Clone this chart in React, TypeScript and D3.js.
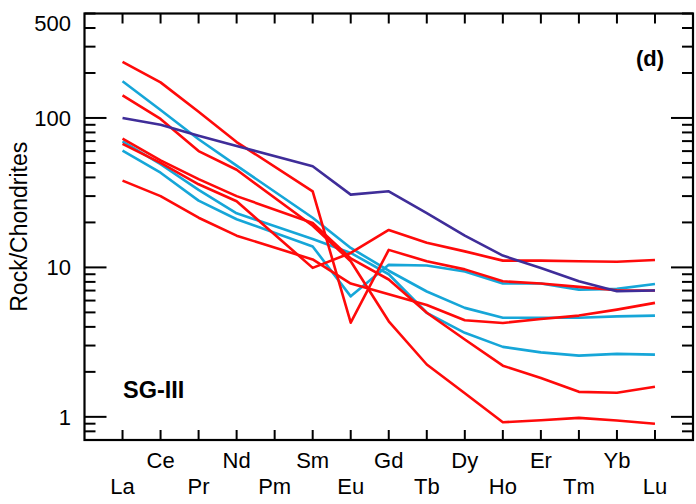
import React from "react";
import * as d3 from "d3";

const elements = ["La", "Ce", "Pr", "Nd", "Pm", "Sm", "Eu", "Gd", "Tb", "Dy", "Ho", "Er", "Tm", "Yb", "Lu"];

const purple1 = [100, 90, 76, 65, null, 47.5, 30.7, 32.3, 23.1, 16.3, 12.0, 9.9, 8.07, 6.92, 7.0];
const red1 = [237, 173, 110, 69, null, 32.3, 4.27, 13.1, 11.0, 9.7, 8.07, 7.8, 7.41, 7.03, 7.0];
const red2 = [141.6, 98.5, 60, 45, null, 19, 11, 4.36, 2.24, 1.44, 0.92, 0.95, 0.985, 0.945, 0.9];
const red3 = [72.8, 52, 39, 30, null, 19.8, 11.5, 8.3, 4.97, 3.29, 2.2, 1.82, 1.47, 1.45, 1.59];
const red4 = [67, 50, 36, 27.7, null, 9.93, 12.5, 17.8, 14.6, 12.8, 11.1, 11.1, 11.0, 10.9, 11.2];
const red5 = [38.1, 30, 21.5, 16.3, null, 11.3, 7.8, 6.6, 5.6, 4.43, 4.25, 4.52, 4.76, 5.22, 5.79];
const cyan1 = [176, 113, 72, 48, null, 21.5, 13.5, 9.5, 6.9, 5.36, 4.6, 4.6, 4.6, 4.7, 4.76];
const cyan2 = [69.7, 49, 33, 23, null, 15.5, 12.5, 9.0, 4.97, 3.65, 2.94, 2.7, 2.57, 2.64, 2.61];
const cyan3 = [60.4, 43, 28, 21, null, 13.8, 6.4, 10.4, 10.3, 9.4, 7.8, 7.8, 7.1, 7.18, 7.75];

const yTickLabels = [1, 10, 100, 500];

const RED = "#ff0a0a";
const CYAN = "#16a6d8";
const PURPLE = "#3f2d99";

const seriesList = [
  { values: cyan1, color: CYAN },
  { values: cyan2, color: CYAN },
  { values: cyan3, color: CYAN },
  { values: red1, color: RED },
  { values: red2, color: RED },
  { values: red3, color: RED },
  { values: red4, color: RED },
  { values: red5, color: RED },
  { values: purple1, color: PURPLE },
];

const W = 696;
const H = 504;
const left = 84.5;
const right = 693;
const top = 13.5;
const bottom = 440;
const FONT = "'Liberation Sans', Arial, Helvetica, sans-serif";

export default function App() {
  const x = d3.scaleLinear().domain([-1, elements.length]).range([left, right]);
  const y = d3.scaleLog().domain([0.7, 500]).range([bottom, top]);

  const line = d3
    .line<{ i: number; v: number }>()
    .x((d) => x(d.i))
    .y((d) => y(d.v));

  const minorTicks: number[] = [];
  [0.1, 1, 10, 100].forEach((dec) => {
    for (let k = 2; k <= 9; k++) {
      const v = dec * k;
      if (v >= 0.7 && v <= 500 && v !== 1 && v !== 10 && v !== 100) minorTicks.push(v);
    }
  });
  const majorTicks = [1, 10, 100];

  return (
    <svg
      width={W}
      height={H}
      style={{ position: "absolute", left: 0, top: 0, display: "block", background: "#fff" }}
      fontFamily={FONT}
    >
      <rect x={0} y={0} width={W} height={H} fill="#fff" />
      <g fill="none" strokeWidth={2.6} strokeLinejoin="round" strokeLinecap="butt">
        {seriesList.map((s, si) => {
          const pts = s.values
            .map((v, i) => ({ i, v: v as number }))
            .filter((d) => d.v != null);
          return <path key={si} d={line(pts) || ""} stroke={s.color} />;
        })}
      </g>
      <rect x={left} y={top} width={right - left} height={bottom - top} fill="none" stroke="#000" strokeWidth={2.2} />
      <g stroke="#000" strokeWidth={2}>
        {minorTicks.map((v) => (
          <g key={"mi" + v}>
            <line x1={left} x2={left + 11} y1={y(v)} y2={y(v)} />
            <line x1={right} x2={right - 11} y1={y(v)} y2={y(v)} />
          </g>
        ))}
        {majorTicks.map((v) => (
          <g key={"ma" + v}>
            <line x1={left} x2={left + 22} y1={y(v)} y2={y(v)} />
            <line x1={right} x2={right - 22} y1={y(v)} y2={y(v)} />
          </g>
        ))}
        {elements.map((e, i) => (
          <g key={"xt" + e}>
            <line x1={x(i)} x2={x(i)} y1={bottom} y2={bottom - 10} />
            <line x1={x(i)} x2={x(i)} y1={top} y2={top + 10} />
          </g>
        ))}
      </g>
      <g fontSize={22} textAnchor="end" fill="#000">
        {yTickLabels.map((v) => (
          <text key={"yl" + v} x={71} y={(v === 500 ? y(v) + 9 : y(v)) + 8}>
            {v}
          </text>
        ))}
      </g>
      <g fontSize={22} textAnchor="middle" fill="#000">
        {elements.map((e, i) => (
          <text key={"xl" + e} x={x(i)} y={i % 2 === 1 ? 468 : 494}>
            {e}
          </text>
        ))}
      </g>
      <text
        transform={`translate(27, ${(top + bottom) / 2}) rotate(-90)`}
        textAnchor="middle"
        fontSize={23}
        fill="#000"
      >
        Rock/Chondrites
      </text>
      <text x={664} y={66} textAnchor="end" fontSize={22} fontWeight="bold" fill="#000">
        (d)
      </text>
      <text x={123} y={398} fontSize={23.5} fontWeight="bold" fill="#000">
        SG-III
      </text>
    </svg>
  );
}
